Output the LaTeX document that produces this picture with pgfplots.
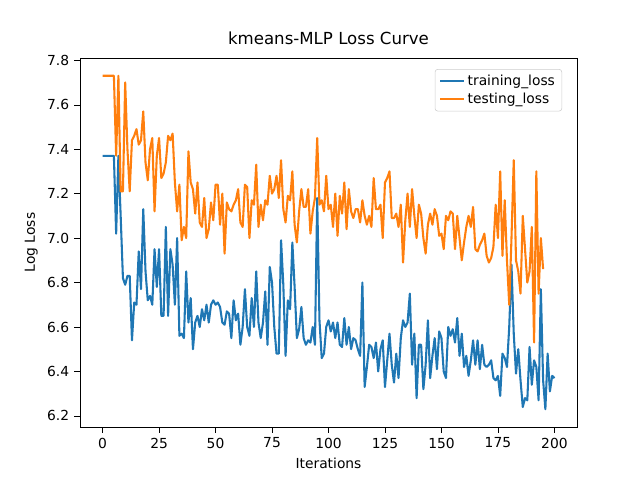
\documentclass[border=0pt]{standalone}
\usepackage{pgfplots}
\usepackage{pgfplotstable}
\pgfplotsset{compat=1.18}
\usepackage{fontspec}
\setmainfont{DejaVu Sans}
\pgfplotstableread[header=false,row sep=\\]{7.37\\7.37\\7.37\\7.37\\7.37\\7.37\\7.02\\7.37\\7.10\\6.82\\6.79\\6.83\\6.83\\6.54\\6.71\\6.70\\6.94\\6.77\\7.13\\6.85\\6.72\\6.74\\6.70\\6.95\\6.78\\6.95\\6.65\\6.65\\7.05\\6.65\\6.95\\6.88\\6.70\\7.00\\6.56\\6.57\\6.55\\6.85\\6.62\\6.73\\6.50\\6.62\\6.65\\6.60\\6.68\\6.63\\6.70\\6.62\\6.70\\6.72\\6.70\\6.71\\6.69\\6.62\\6.61\\6.67\\6.66\\6.55\\6.72\\6.63\\6.66\\6.52\\6.60\\6.77\\6.60\\6.56\\6.73\\6.60\\6.85\\6.62\\6.55\\6.62\\6.76\\6.52\\6.87\\6.80\\6.60\\6.48\\6.48\\6.99\\6.79\\6.47\\6.72\\6.68\\6.98\\6.78\\6.55\\6.59\\6.69\\6.55\\6.52\\6.54\\6.53\\6.60\\6.52\\7.18\\6.63\\6.46\\6.48\\6.60\\6.63\\6.58\\6.62\\6.55\\6.62\\6.52\\6.51\\6.64\\6.52\\6.60\\6.50\\6.55\\6.54\\6.50\\6.47\\6.80\\6.33\\6.42\\6.52\\6.51\\6.46\\6.53\\6.40\\6.50\\6.54\\6.33\\6.45\\6.57\\6.43\\6.35\\6.48\\6.37\\6.55\\6.63\\6.60\\6.62\\6.75\\6.43\\6.57\\6.28\\6.52\\6.52\\6.32\\6.43\\6.63\\6.37\\6.47\\6.55\\6.41\\6.58\\6.55\\6.40\\6.37\\6.60\\6.56\\6.59\\6.53\\6.64\\6.47\\6.57\\6.42\\6.47\\6.38\\6.45\\6.54\\6.43\\6.54\\6.41\\6.52\\6.43\\6.42\\6.43\\6.45\\6.37\\6.36\\6.38\\6.29\\6.48\\6.46\\6.42\\6.60\\6.88\\6.57\\6.39\\6.50\\6.36\\6.24\\6.28\\6.27\\6.51\\6.34\\6.45\\6.42\\6.27\\6.77\\6.36\\6.23\\6.48\\6.31\\6.38\\6.37\\}\train
\pgfplotstableread[header=false,row sep=\\]{7.73\\7.73\\7.73\\7.73\\7.73\\7.73\\7.37\\7.73\\7.21\\7.21\\7.70\\7.40\\7.21\\7.44\\7.46\\7.49\\7.42\\7.44\\7.57\\7.34\\7.26\\7.40\\7.45\\7.12\\7.37\\7.45\\7.27\\7.29\\7.34\\7.46\\7.44\\7.47\\7.25\\7.12\\7.24\\6.99\\7.05\\7.00\\7.39\\7.25\\7.22\\7.11\\7.25\\7.07\\7.05\\7.18\\7.00\\7.04\\7.16\\7.08\\7.24\\7.24\\7.06\\7.20\\6.93\\7.16\\7.13\\7.12\\7.15\\7.17\\7.22\\7.07\\7.05\\7.24\\7.23\\7.00\\7.17\\7.15\\7.33\\7.05\\7.15\\7.08\\7.17\\7.15\\7.28\\7.20\\7.22\\7.28\\7.18\\7.35\\7.13\\7.07\\7.19\\7.17\\7.30\\7.06\\6.98\\7.12\\7.22\\7.14\\7.14\\7.22\\7.02\\7.12\\7.18\\7.45\\7.15\\7.17\\7.12\\7.28\\7.13\\7.15\\7.05\\7.20\\7.01\\7.19\\7.11\\7.25\\7.04\\7.22\\7.12\\7.09\\7.13\\7.13\\7.07\\7.17\\7.10\\7.06\\7.10\\7.05\\7.27\\7.13\\7.13\\7.15\\7.00\\7.25\\7.27\\7.30\\7.09\\7.09\\7.11\\7.05\\7.15\\6.89\\7.08\\7.20\\7.05\\7.22\\7.10\\7.00\\7.15\\7.11\\7.00\\6.93\\7.06\\7.11\\7.06\\7.13\\7.10\\7.01\\7.02\\6.95\\7.10\\7.08\\7.12\\7.11\\6.95\\7.10\\7.00\\6.90\\6.98\\7.05\\7.10\\7.05\\7.14\\6.95\\6.94\\6.97\\6.99\\7.02\\6.92\\6.89\\6.91\\6.96\\7.15\\7.00\\7.30\\6.92\\7.17\\6.90\\6.70\\7.00\\7.35\\6.90\\6.85\\6.75\\7.10\\6.95\\6.80\\6.85\\7.05\\6.53\\7.30\\6.75\\7.00\\6.86\\}\test
\begin{document}
\begin{tikzpicture}
\path (-0.80in,-0.53in) rectangle (5.60in,4.27in);
\begin{axis}[
  scale only axis, width=4.97in, height=3.69in,
  xmin=-10, xmax=210, ymin=6.15, ymax=7.81,
  xtick={0,25,...,200}, ytick={6.2,6.4,...,7.8},
  /pgf/number format/assume math mode=true,
  yticklabel style={/pgf/number format/fixed,/pgf/number format/precision=1,/pgf/number format/fixed zerofill},
  tick style={black}, tick align=outside, xtick pos=bottom, ytick pos=left,
  ticklabel style={font=\fontsize{10}{12}\selectfont},
  label style={font=\fontsize{10}{12}\selectfont},
  xlabel={Iterations}, ylabel={Log Loss},
  title={kmeans-MLP Loss Curve}, title style={font=\fontsize{12}{14}\selectfont},
  legend pos=north east, legend cell align=left,
  legend style={font=\fontsize{10}{12}\selectfont, draw=black!20, rounded corners=2pt},
]
\addplot[color={rgb,255:red,31;green,119;blue,180}, line width=1.5pt, line join=round] table[x expr=\coordindex, y index=0] {\train};
\addlegendentry{training\_loss}
\addplot[color={rgb,255:red,255;green,127;blue,14}, line width=1.5pt, line join=round] table[x expr=\coordindex, y index=0] {\test};
\addlegendentry{testing\_loss}
\end{axis}
\end{tikzpicture}
\end{document}
